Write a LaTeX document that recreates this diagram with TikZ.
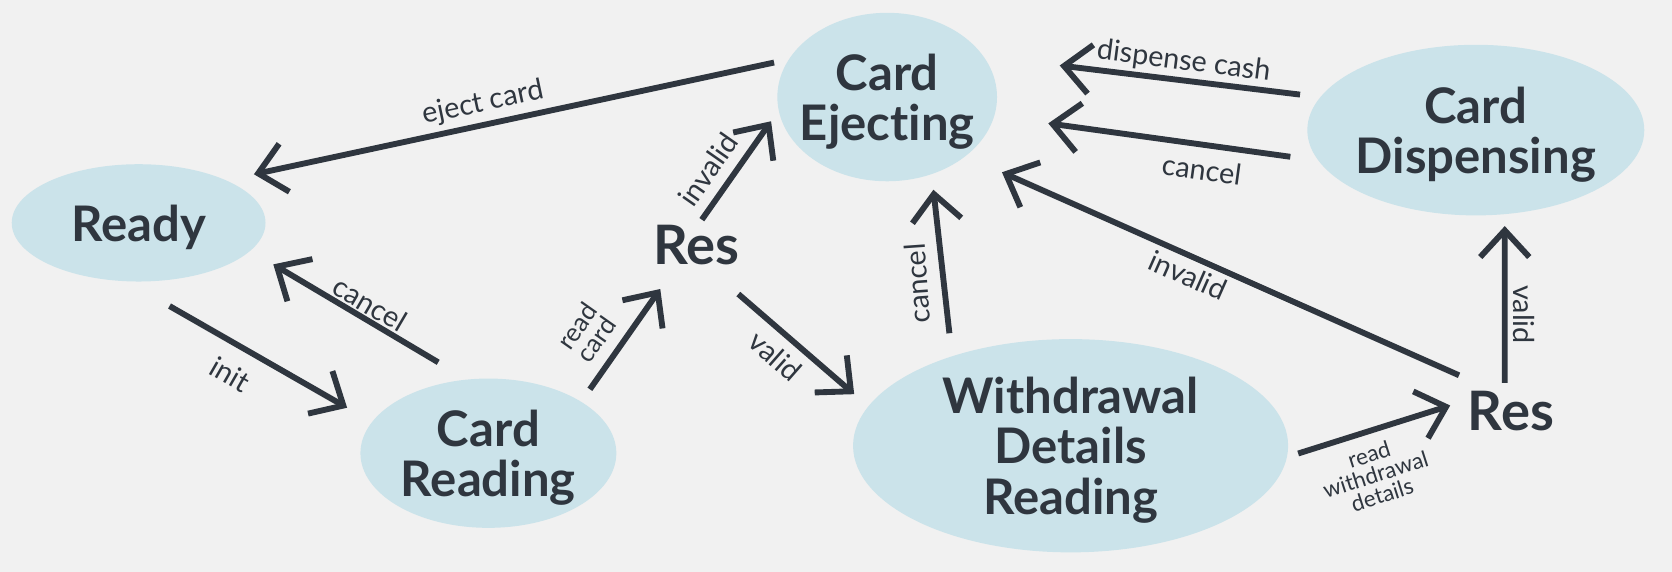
\documentclass[tikz,border=0pt]{standalone}
\usepackage{fontspec}
\setmainfont{Lato}[Ligatures={NoCommon,NoRare}]
\usetikzlibrary{arrows.meta,shapes.geometric}
\definecolor{bg}{HTML}{F1F1F1}
\definecolor{nodefill}{HTML}{CBE3EA}
\definecolor{ink}{HTML}{2F363F}
\begin{document}
\begin{tikzpicture}[x=1pt,y=-1pt,
  state/.style={ellipse, fill=nodefill, inner sep=0pt, outer sep=0pt},
  sttext/.style={text=ink, font=\fontsize{46}{47}\selectfont\bfseries, align=center, inner sep=0pt, text depth=0pt},
  resbox/.style={rectangle, inner sep=0pt, outer sep=0pt, minimum width=86pt, minimum height=38pt},
  restext/.style={text=ink, font=\fontsize{51}{51}\selectfont\bfseries, inner sep=0pt, text depth=0pt},
  arr/.style={draw=ink, line width=5.5pt, -{Straight Barb[length=25pt,width=46pt]}},
  lbl/.style={text=ink, font=\fontsize{27}{27}\selectfont, inner sep=0pt, align=center},
  lblsmall/.style={text=ink, font=\fontsize{24}{22}\selectfont, inner sep=0pt, align=center},
  lbltiny/.style={text=ink, font=\fontsize{21}{20}\selectfont, inner sep=0pt, align=center},
  ]
\fill[bg] (0,0) rectangle (1568,536);
\useasboundingbox (0,0) rectangle (1568,536);

% states
\node[state, minimum width=238pt, minimum height=110pt, label={[sttext]center:Ready}] (rd) at (130,209) {};
\node[state, minimum width=240pt, minimum height=140pt, label={[sttext]center:Card\\Reading}] (cr) at (458,425) {};
\node[state, minimum width=206pt, minimum height=158pt, label={[sttext]center:Card\\Ejecting}] (ce) at (832,91) {};
\node[state, minimum width=408pt, minimum height=200pt, label={[sttext]center:Withdrawal\\Details\\Reading}] (wdr) at (1004,418) {};
\node[state, minimum width=316pt, minimum height=160pt, label={[sttext]center:Card\\Dispensing}] (cd) at (1384,122) {};
\node[resbox, label={[restext]center:Res}] (r1) at (653,230) {};
\node[resbox, label={[restext]center:Res}] (r2) at (1417,385) {};

% connectors
\draw[arr, shorten <=14.3pt, shorten >=26.9pt] (ce.159.9) -- (rd.26.6);
\draw[arr, shorten <=46.8pt, shorten >=27pt] (rd.-102.9) -- (cr.165.4);
\draw[arr, shorten <=31.7pt, shorten >=25.1pt] (cr.106.7) -- (rd.-14.8);
\draw[arr, shorten <=14.3pt, shorten >=26.9pt] (cr.29.1) -- (r1.-134.3);
\draw[arr, shorten <=6.1pt, shorten >=12.5pt] (r1.85.5) -- (ce.-173.4);
\draw[arr, shorten <=40.9pt, shorten >=17.6pt] (r1.-66.4) -- (wdr.169.5);
\draw[arr, shorten <=21.8pt, shorten >=14.8pt] (wdr.143.5) -- (ce.-60.2);
\draw[arr, shorten <=19.3pt, shorten >=72.2pt] (cd.168.6) -- (ce.23.7);
\draw[arr, shorten <=26.7pt, shorten >=51.2pt] (cd.-169.0) -- (ce.-10.2);
\draw[arr, shorten <=34.6pt, shorten >=37.4pt] (r2.132.5) -- (ce.-37.5);
\draw[arr, shorten <=7pt, shorten >=11.2pt] (r2.107.5) -- (cd.-71.1);
\draw[arr, shorten <=11.1pt, shorten >=14.7pt] (wdr.-3.5) -- (r2.168.8);

% labels
\node[lbl, rotate=11.9] (l1) at (453,97) {eject card};
\node[lbl, rotate=-29.9] (l2) at (216,351) {init};
\node[lbl, rotate=-30.4] (l3) at (347,285) {cancel};
\node[lblsmall, rotate=54.9] (l4) at (550,312) {read\\card};
\node[lbl, rotate=55] (l5) at (664,159) {invalid};
\node[lbl, rotate=-41.3] (l6) at (727,334) {valid};
\node[lbl, rotate=94] (l7) at (860,266) {cancel};
\node[lbl, rotate=-7.3] (l8) at (1110,58) {dispense cash};
\node[lbl, rotate=-7.8] (l9) at (1127,159) {cancel};
\node[lbl, rotate=-23.9] (l10) at (1114,258) {invalid};
\node[lbl, rotate=-90] (l11) at (1429,295) {valid};
\node[lbltiny, rotate=17.8] (l12) at (1290,445) {read\\withdrawal\\details};
\end{tikzpicture}
\end{document}
